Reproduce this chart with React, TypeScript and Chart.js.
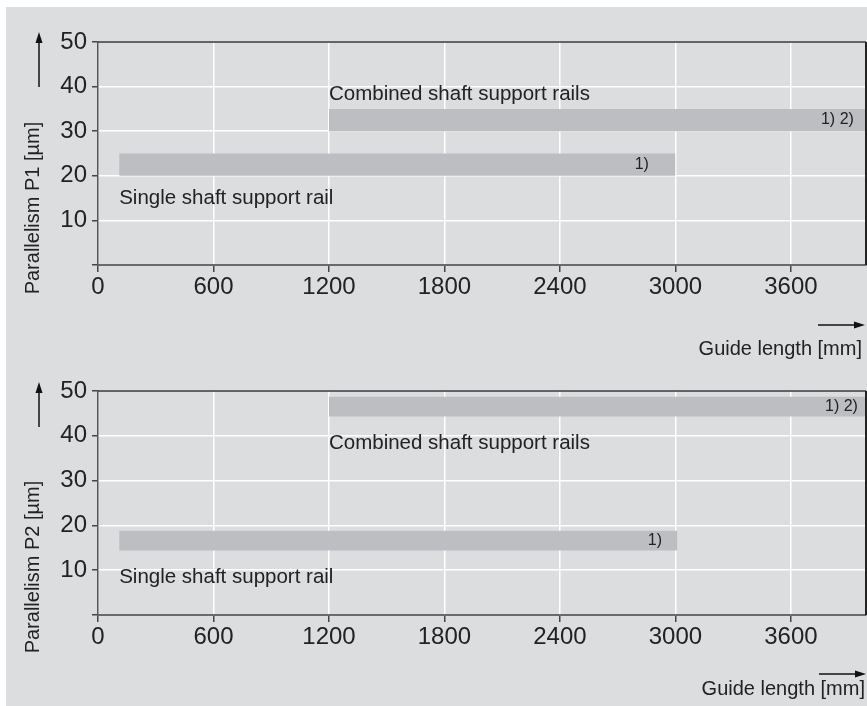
import React, { useEffect, useRef } from "react";
import { Chart, registerables } from "chart.js";
Chart.register(...registerables);

const FONT = '"Liberation Sans", Arial, Helvetica, sans-serif';
const BG = "#dcdddf";
const BAR = "#bdbec1";
const TEXT = "#222222";

// shared axes
const xTicks = [0, 600, 1200, 1800, 2400, 3000, 3600];
const yTicks = [0, 10, 20, 30, 40, 50];
const xMin = 0;
const xMax = 3990;
const yMin = 0;
const yMax = 50;
const xTitle = "Guide length [mm]";

// Panel P1
const p1Title = "Parallelism P1 [µm]";
const p1BarStart = [110, 1200];
const p1BarEnd = [3000, 3990];
const p1BarLow = [20, 30];
const p1BarHigh = [25, 35];
const p1Labels = ["Single shaft support rail", "Combined shaft support rails"];
const p1LabelX = [110, 1200];
const p1LabelY = [13.7, 37];
const p1Notes = ["1)", "1) 2)"];
const p1NoteX = [2862, 3927];
const p1NoteY = [22.5, 32.5];

// Panel P2
const p2Title = "Parallelism P2 [µm]";
const p2BarStart = [110, 1200];
const p2BarEnd = [3010, 3990];
const p2BarLow = [14.4, 44.3];
const p2BarHigh = [18.8, 48.7];
const p2Labels = ["Single shaft support rail", "Combined shaft support rails"];
const p2LabelX = [110, 1200];
const p2LabelY = [7.1, 37];
const p2Notes = ["1)", "1) 2)"];
const p2NoteX = [2930, 3948];
const p2NoteY = [16.6, 46.5];

type PanelProps = {
  top: number;
  height: number;
  padTop: number;
  xHeight: number;
  title: string;
  titleY: number;
  arrowY0: number;
  arrowY1: number;
  xTitleRight: number;
  xTitleBaseline: number;
  xArrowY: number;
  xArrowX0: number;
  xArrowX1: number;
  barStart: number[];
  barEnd: number[];
  barLow: number[];
  barHigh: number[];
  labels: string[];
  labelX: number[];
  labelY: number[];
  notes: string[];
  noteX: number[];
  noteY: number[];
};

function Panel(p: PanelProps) {
  const ref = useRef<HTMLCanvasElement>(null);
  useEffect(() => {
    const canvas = ref.current!;
    const datasets: any[] = [];
    p.barStart.forEach((s, i) => {
      datasets.push({
        data: [
          { x: s, y: p.barLow[i] },
          { x: p.barEnd[i], y: p.barLow[i] },
        ],
        showLine: true,
        borderWidth: 0,
        borderColor: "rgba(0,0,0,0)",
        pointRadius: 0,
        fill: false,
      });
      datasets.push({
        data: [
          { x: s, y: p.barHigh[i] },
          { x: p.barEnd[i], y: p.barHigh[i] },
        ],
        showLine: true,
        borderWidth: 0,
        borderColor: "rgba(0,0,0,0)",
        pointRadius: 0,
        fill: "-1",
        backgroundColor: BAR,
      });
    });

    const annot = {
      id: "annot",
      afterDatasetsDraw(chart: any) {
        const { ctx, chartArea } = chart;
        const x = chart.scales.x;
        const y = chart.scales.y;
        ctx.save();
        // frame top and right
        ctx.strokeStyle = "#333";
        ctx.lineWidth = 1.5;
        ctx.beginPath();
        ctx.moveTo(chartArea.left, chartArea.top);
        ctx.lineTo(chartArea.right, chartArea.top);
        ctx.stroke();
        ctx.strokeStyle = "#222";
        ctx.lineWidth = 2;
        ctx.beginPath();
        ctx.moveTo(chartArea.right, chartArea.top);
        ctx.lineTo(chartArea.right, chartArea.bottom);
        ctx.stroke();

        ctx.fillStyle = TEXT;
        ctx.font = `20.5px ${FONT}`;
        ctx.textAlign = "left";
        ctx.textBaseline = "alphabetic";
        p.labels.forEach((t, i) => {
          ctx.fillText(t, x.getPixelForValue(p.labelX[i]), y.getPixelForValue(p.labelY[i]));
        });
        ctx.font = `16px ${FONT}`;
        ctx.textAlign = "right";
        ctx.textBaseline = "middle";
        p.notes.forEach((t, i) => {
          ctx.fillText(t, x.getPixelForValue(p.noteX[i]), y.getPixelForValue(p.noteY[i]));
        });

        // y title
        ctx.font = `20px ${FONT}`;
        ctx.save();
        ctx.translate(33, p.titleY);
        ctx.rotate(-Math.PI / 2);
        ctx.textAlign = "center";
        ctx.textBaseline = "middle";
        ctx.fillText(p.title, 0, 0);
        ctx.restore();
        // y arrow
        ctx.strokeStyle = "#111";
        ctx.fillStyle = "#111";
        ctx.lineWidth = 1.5;
        ctx.beginPath();
        ctx.moveTo(39, p.arrowY0);
        ctx.lineTo(39, p.arrowY1 + 8);
        ctx.stroke();
        ctx.beginPath();
        ctx.moveTo(39, p.arrowY1);
        ctx.lineTo(35.5, p.arrowY1 + 11);
        ctx.lineTo(42.5, p.arrowY1 + 11);
        ctx.closePath();
        ctx.fill();

        // x title
        ctx.fillStyle = TEXT;
        ctx.textAlign = "right";
        ctx.textBaseline = "alphabetic";
        ctx.fillText(xTitle, p.xTitleRight, p.xTitleBaseline);
        // x arrow
        ctx.fillStyle = "#111";
        ctx.beginPath();
        ctx.moveTo(p.xArrowX0, p.xArrowY);
        ctx.lineTo(p.xArrowX1 - 8, p.xArrowY);
        ctx.stroke();
        ctx.beginPath();
        ctx.moveTo(p.xArrowX1, p.xArrowY);
        ctx.lineTo(p.xArrowX1 - 11, p.xArrowY - 3.5);
        ctx.lineTo(p.xArrowX1 - 11, p.xArrowY + 3.5);
        ctx.closePath();
        ctx.fill();
        ctx.restore();
      },
    };

    const chart = new Chart(canvas, {
      type: "scatter",
      data: { datasets },
      plugins: [annot],
      options: {
        responsive: false,
        animation: false,
        events: [],
        layout: { padding: { top: p.padTop, left: 0, right: 1, bottom: 0 } },
        plugins: { legend: { display: false }, tooltip: { enabled: false } },
        scales: {
          x: {
            type: "linear",
            min: xMin,
            max: xMax,
            afterBuildTicks: (s: any) => {
              s.ticks = xTicks.map((v) => ({ value: v }));
            },
            afterFit: (s: any) => {
              s.height = p.xHeight;
            },
            grid: {
              color: "#ffffff",
              lineWidth: 1.5,
              tickColor: "#444",
              tickLength: 7,
              tickWidth: 1.5,
            },
            border: { color: "#6a6a6a", width: 2 },
            ticks: {
              color: TEXT,
              font: { family: FONT, size: 24 },
              padding: 1,
              maxRotation: 0,
              autoSkip: false,
              callback: (v: any) => String(v),
            },
          },
          y: {
            type: "linear",
            min: yMin,
            max: yMax,
            afterBuildTicks: (s: any) => {
              s.ticks = yTicks.map((v) => ({ value: v }));
            },
            afterFit: (s: any) => {
              s.width = 98;
            },
            grid: {
              color: "#ffffff",
              lineWidth: 1.5,
              tickColor: "#444",
              tickLength: 6,
              tickWidth: 1.5,
            },
            border: { color: "#555", width: 1.5 },
            ticks: {
              color: TEXT,
              font: { family: FONT, size: 24 },
              padding: 5,
              autoSkip: false,
              callback: (v: any) => (v === 0 ? "" : String(v)),
            },
          },
        },
      },
    } as any);
    return () => chart.destroy();
  }, []);
  return (
    <canvas
      ref={ref}
      width={867}
      height={p.height}
      style={{ position: "absolute", left: 0, top: p.top, width: 867, height: p.height }}
    />
  );
}

export default function App() {
  return (
    <div
      style={{
        position: "absolute",
        left: 0,
        top: 0,
        width: 867,
        height: 706,
        background: "#ffffff",
        overflow: "hidden",
      }}
    >
      <div style={{ position: "absolute", left: 6, top: 7, width: 861, height: 699, background: BG }} />
      <Panel
        top={0}
        height={365}
        padTop={42}
        xHeight={100}
        title={p1Title}
        titleY={208}
        arrowY0={87}
        arrowY1={32}
        xTitleRight={862}
        xTitleBaseline={355}
        xArrowY={325}
        xArrowX0={818}
        xArrowX1={865}
        barStart={p1BarStart}
        barEnd={p1BarEnd}
        barLow={p1BarLow}
        barHigh={p1BarHigh}
        labels={p1Labels}
        labelX={p1LabelX}
        labelY={p1LabelY}
        notes={p1Notes}
        noteX={p1NoteX}
        noteY={p1NoteY}
      />
      <Panel
        top={365}
        height={341}
        padTop={26}
        xHeight={91}
        title={p2Title}
        titleY={202}
        arrowY0={62}
        arrowY1={17}
        xTitleRight={865}
        xTitleBaseline={330}
        xArrowY={309}
        xArrowX0={819}
        xArrowX1={866}
        barStart={p2BarStart}
        barEnd={p2BarEnd}
        barLow={p2BarLow}
        barHigh={p2BarHigh}
        labels={p2Labels}
        labelX={p2LabelX}
        labelY={p2LabelY}
        notes={p2Notes}
        noteX={p2NoteX}
        noteY={p2NoteY}
      />
    </div>
  );
}
